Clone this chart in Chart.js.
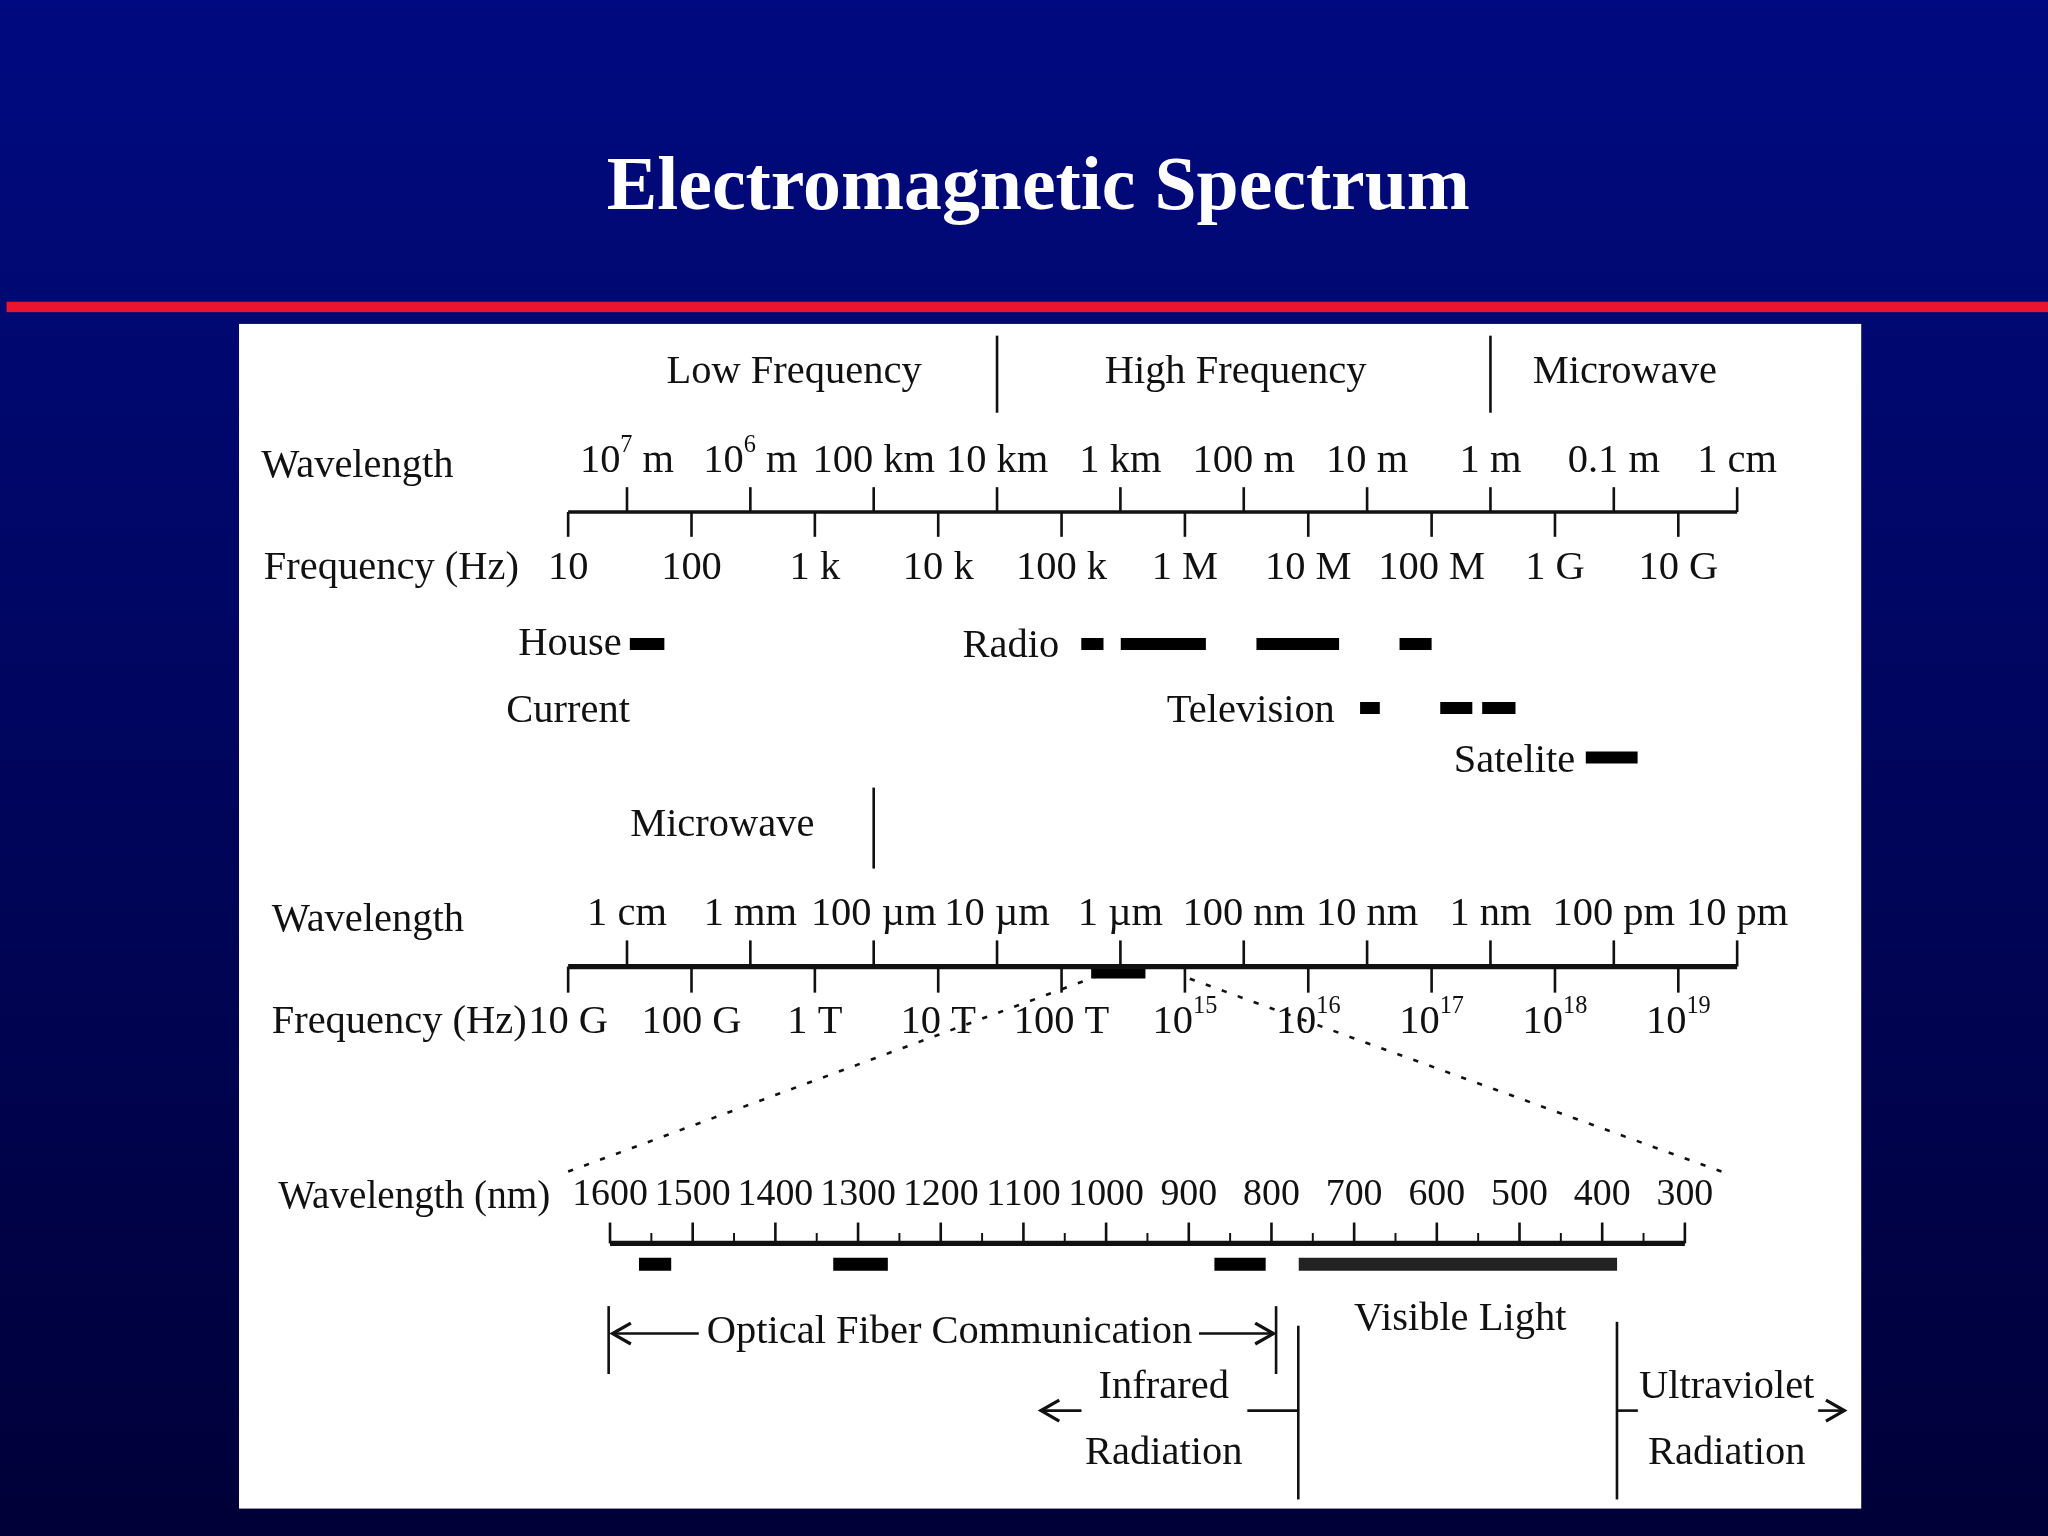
<!DOCTYPE html>
<html>
<head>
<meta charset="utf-8">
<script src="https://cdn.jsdelivr.net/npm/chart.js@4"></script>
<style>
  html, body { margin: 0; padding: 0; background: #000060; }
  canvas { display: block; }
</style>
</head>
<body>
<canvas id="spectrum" width="2048" height="1536"></canvas>
<script>
// Radio scale: values are log10(frequency in Hz)
const radioFreqLogs = [1, 2, 3, 4, 5, 6, 7, 8, 9, 10];
const radioFreqLabels = ['10', '100', '1 k', '10 k', '100 k', '1 M', '10 M', '100 M', '1 G', '10 G'];
const radioWaveLogs = [1.477, 2.477, 3.477, 4.477, 5.477, 6.477, 7.477, 8.477, 9.477, 10.477];
const radioWaveLabels = ['10^7 m', '10^6 m', '100 km', '10 km', '1 km', '100 m', '10 m', '1 m', '0.1 m', '1 cm'];
const radioBandDividers = [4.477, 8.477];
const radioHeaders = ['Low Frequency', 'High Frequency', 'Microwave'];

const houseBands = [[1.5, 1.78]];
const radioBands = [[5.16, 5.34], [5.48, 6.17], [6.58, 7.25], [7.74, 8.0]];
const tvBands = [[7.42, 7.58], [8.07, 8.33], [8.41, 8.68]];
const satBands = [[9.25, 9.67]];

// Optical scale: log10(Hz)
const optFreqLogs = [10, 11, 12, 13, 14, 15, 16, 17, 18, 19];
const optFreqLabels = ['10 G', '100 G', '1 T', '10 T', '100 T', '10^15', '10^16', '10^17', '10^18', '10^19'];
const optWaveLogs = [10.477, 11.477, 12.477, 13.477, 14.477, 15.477, 16.477, 17.477, 18.477, 19.477];
const optWaveLabels = ['1 cm', '1 mm', '100 µm', '10 µm', '1 µm', '100 nm', '10 nm', '1 nm', '100 pm', '10 pm'];
const microwaveDivider = 12.477;
const visibleZoomBand = [[14.24, 14.68]];

// Zoomed scale: wavelength in nm
const nmTicks = [1600, 1500, 1400, 1300, 1200, 1100, 1000, 900, 800, 700, 600, 500, 400, 300];
const fiberBands = [[1565, 1526], [1330, 1264], [869, 807]];
const visibleBand = [[767, 382]];

const W0 = 1568;

function bandData(ranges, y) {
  const pts = [];
  ranges.forEach(r => { pts.push({x: r[0], y: y}, {x: r[1], y: y}, {x: r[1], y: null}); });
  return pts;
}
function bandSet(ranges, y, axis, width, color) {
  return {
    data: bandData(ranges, y), xAxisID: axis, yAxisID: 'y',
    borderColor: color, borderWidth: width, pointRadius: 0,
    borderCapStyle: 'butt', spanGaps: false, tension: 0
  };
}

const k = 2048 / W0;

const decor = {
  id: 'decor',
  beforeDraw(chart) {
    const c = chart.ctx, w = chart.width, h = chart.height;
    const g = c.createLinearGradient(0, 0, 0, h);
    g.addColorStop(0, '#000a80');
    g.addColorStop(1, '#000038');
    c.fillStyle = g;
    c.fillRect(0, 0, w, h);
    c.fillStyle = '#ffffff';
    c.font = 'bold ' + (58 * k) + 'px "Liberation Serif"';
    c.textAlign = 'center';
    c.textBaseline = 'middle';
    c.fillText('Electromagnetic Spectrum', 795 * k, 145 * k);
    c.fillStyle = '#ea1430';
    c.fillRect(5 * k, 231 * k, w, 8 * k);
    c.fillStyle = '#ffffff';
    c.fillRect(183 * k, 248 * k, (1425 - 183) * k, (1155 - 248) * k);
  },
  afterDraw(chart) {
    const c = chart.ctx, s = chart.scales;
    const Y = v => s.y.getPixelForValue(v);
    const P = v => s.px.getPixelForValue(v);
    const font = sz => sz * k + 'px "Liberation Serif"';
    c.fillStyle = '#111';
    c.strokeStyle = '#111';

    function line(x1, y1, x2, y2, lw) {
      c.lineWidth = (lw || 2) * k;
      c.beginPath(); c.moveTo(x1, y1); c.lineTo(x2, y2); c.stroke();
    }
    function text(t, x, y, align, sz) {
      sz = sz || 31;
      c.textBaseline = 'middle';
      const parts = t.split('^');
      if (parts.length === 1) {
        c.font = font(sz); c.textAlign = align || 'center'; c.fillText(t, x, y); return;
      }
      const m = parts[1].match(/^(\d+)(.*)$/);
      const base = parts[0], sup = m[1], rest = m[2];
      c.font = font(sz); const wb = c.measureText(base).width, wr = c.measureText(rest).width;
      c.font = font(sz * 0.6); const ws = c.measureText(sup).width;
      const tot = wb + ws + wr;
      let x0 = align === 'left' ? x : align === 'right' ? x - tot : x - tot / 2;
      c.textAlign = 'left';
      c.font = font(sz); c.fillText(base, x0, y);
      c.font = font(sz * 0.6); c.fillText(sup, x0 + wb, y - 12 * k);
      c.font = font(sz); c.fillText(rest, x0 + wb + ws, y);
    }
    function arrow(x, y, dir) {
      c.beginPath();
      c.moveTo(x + dir * 14 * k, y - 8 * k); c.lineTo(x, y); c.lineTo(x + dir * 14 * k, y + 8 * k);
      c.lineWidth = 2.5 * k; c.stroke();
    }

    // --- radio axis ---
    const f1 = s.f1;
    radioHeaders.forEach((t, i) => text(t, P([608, 946, 1244][i]), Y(285)));
    radioBandDividers.forEach(v => line(f1.getPixelForValue(v), Y(257), f1.getPixelForValue(v), Y(316), 2));
    text('Wavelength', P(200), Y(357), 'left');
    text('Frequency (Hz)', P(202), Y(435), 'left');
    line(f1.getPixelForValue(1), Y(392), f1.getPixelForValue(10.477), Y(392), 2.5);
    radioFreqLogs.forEach((v, i) => {
      const x = f1.getPixelForValue(v);
      line(x, Y(392), x, Y(411), 2);
      text(radioFreqLabels[i], x, Y(435));
    });
    radioWaveLogs.forEach((v, i) => {
      const x = f1.getPixelForValue(v);
      line(x, Y(373), x, Y(392), 2);
      text(radioWaveLabels[i], x, Y(353));
    });
    text('House', P(476), Y(493), 'right');
    text('Current', P(435), Y(545));
    text('Radio', P(811), Y(495), 'right');
    text('Television', P(1022), Y(545), 'right');
    text('Satelite', P(1206), Y(583), 'right');

    // --- optical axis ---
    const f2 = s.f2;
    text('Microwave', P(553), Y(632));
    line(f2.getPixelForValue(microwaveDivider), Y(603), f2.getPixelForValue(microwaveDivider), Y(665), 2);
    text('Wavelength', P(208), Y(705), 'left');
    text('Frequency (Hz)', P(208), Y(783), 'left');
    line(f2.getPixelForValue(10), Y(740), f2.getPixelForValue(19.477), Y(740), 4);
    optFreqLogs.forEach((v, i) => {
      const x = f2.getPixelForValue(v);
      line(x, Y(740), x, Y(760), 2);
      text(optFreqLabels[i], x, Y(783));
    });
    optWaveLogs.forEach((v, i) => {
      const x = f2.getPixelForValue(v);
      line(x, Y(720), x, Y(740), 2);
      text(optWaveLabels[i], x, Y(700));
    });

    // dotted zoom lines
    c.save();
    c.setLineDash([4 * k, 9 * k]);
    line(P(435), Y(897), f2.getPixelForValue(visibleZoomBand[0][0] + 0.03), Y(748), 2);
    line(P(1318), Y(897), f2.getPixelForValue(15.0), Y(748), 2);
    c.restore();

    // --- nm axis ---
    const nm = s.nm;
    text('Wavelength (nm)', P(213), Y(917), 'left', 30);
    line(nm.getPixelForValue(1600), Y(952), nm.getPixelForValue(300), Y(952), 4);
    nmTicks.forEach(v => {
      const x = nm.getPixelForValue(v);
      line(x, Y(936), x, Y(952), 2);
      text(String(v), x, Y(915), 'center', 29);
      if (v > 300) {
        const xm = nm.getPixelForValue(v - 50);
        line(xm, Y(944), xm, Y(952), 1.5);
      }
    });

    // annotations
    line(P(466), Y(1000), P(466), Y(1052), 2);
    line(P(977), Y(1000), P(977), Y(1052), 2);
    line(P(470), Y(1021), P(535), Y(1021), 2);
    line(P(918), Y(1021), P(974), Y(1021), 2);
    arrow(P(469), Y(1021), 1);
    arrow(P(975), Y(1021), -1);
    text('Optical Fiber Communication', P(727), Y(1020));
    line(P(994), Y(1015), P(994), Y(1148), 2);
    line(P(1238), Y(1012), P(1238), Y(1148), 2);
    text('Visible Light', P(1118), Y(1010));
    text('Infrared', P(891), Y(1062));
    text('Radiation', P(891), Y(1113));
    line(P(955), Y(1080), P(994), Y(1080), 2);
    line(P(797), Y(1080), P(828), Y(1080), 2);
    arrow(P(797), Y(1080), 1);
    text('Ultraviolet', P(1322), Y(1062));
    text('Radiation', P(1322), Y(1113));
    line(P(1238), Y(1080), P(1254), Y(1080), 2);
    line(P(1392), Y(1080), P(1412), Y(1080), 2);
    arrow(P(1412), Y(1080), -1);
  }
};

function xAxis(min, max, reverse) {
  return {type: 'linear', axis: 'x', min: min, max: max, reverse: !!reverse, display: false};
}

new Chart(document.getElementById('spectrum'), {
  type: 'line',
  data: {
    datasets: [
      bandSet(houseBands, 493, 'f1', 12, '#000'),
      bandSet(radioBands, 493, 'f1', 12, '#000'),
      bandSet(tvBands, 542, 'f1', 12, '#000'),
      bandSet(satBands, 580, 'f1', 12, '#000'),
      bandSet(visibleZoomBand, 745, 'f2', 11, '#000'),
      bandSet(fiberBands, 968, 'nm', 13, '#000'),
      bandSet(visibleBand, 968, 'nm', 13, '#222'),
      bandSet(visibleBand.map(r => [r[0] - 3, r[1] + 3]), 968, 'nm', 7, '#b8b8b8')
    ]
  },
  options: {
    responsive: false,
    animation: false,
    layout: {padding: 0},
    plugins: {legend: {display: false}, tooltip: {enabled: false}},
    scales: {
      px: xAxis(0, W0),
      f1: xAxis(-3.606, 12.997),
      f2: xAxis(5.394, 21.997),
      nm: xAxis(-139.2, 2337.8, true),
      y: {type: 'linear', min: 0, max: 1176, reverse: true, display: false}
    }
  },
  plugins: [decor]
});
</script>
</body>
</html>
